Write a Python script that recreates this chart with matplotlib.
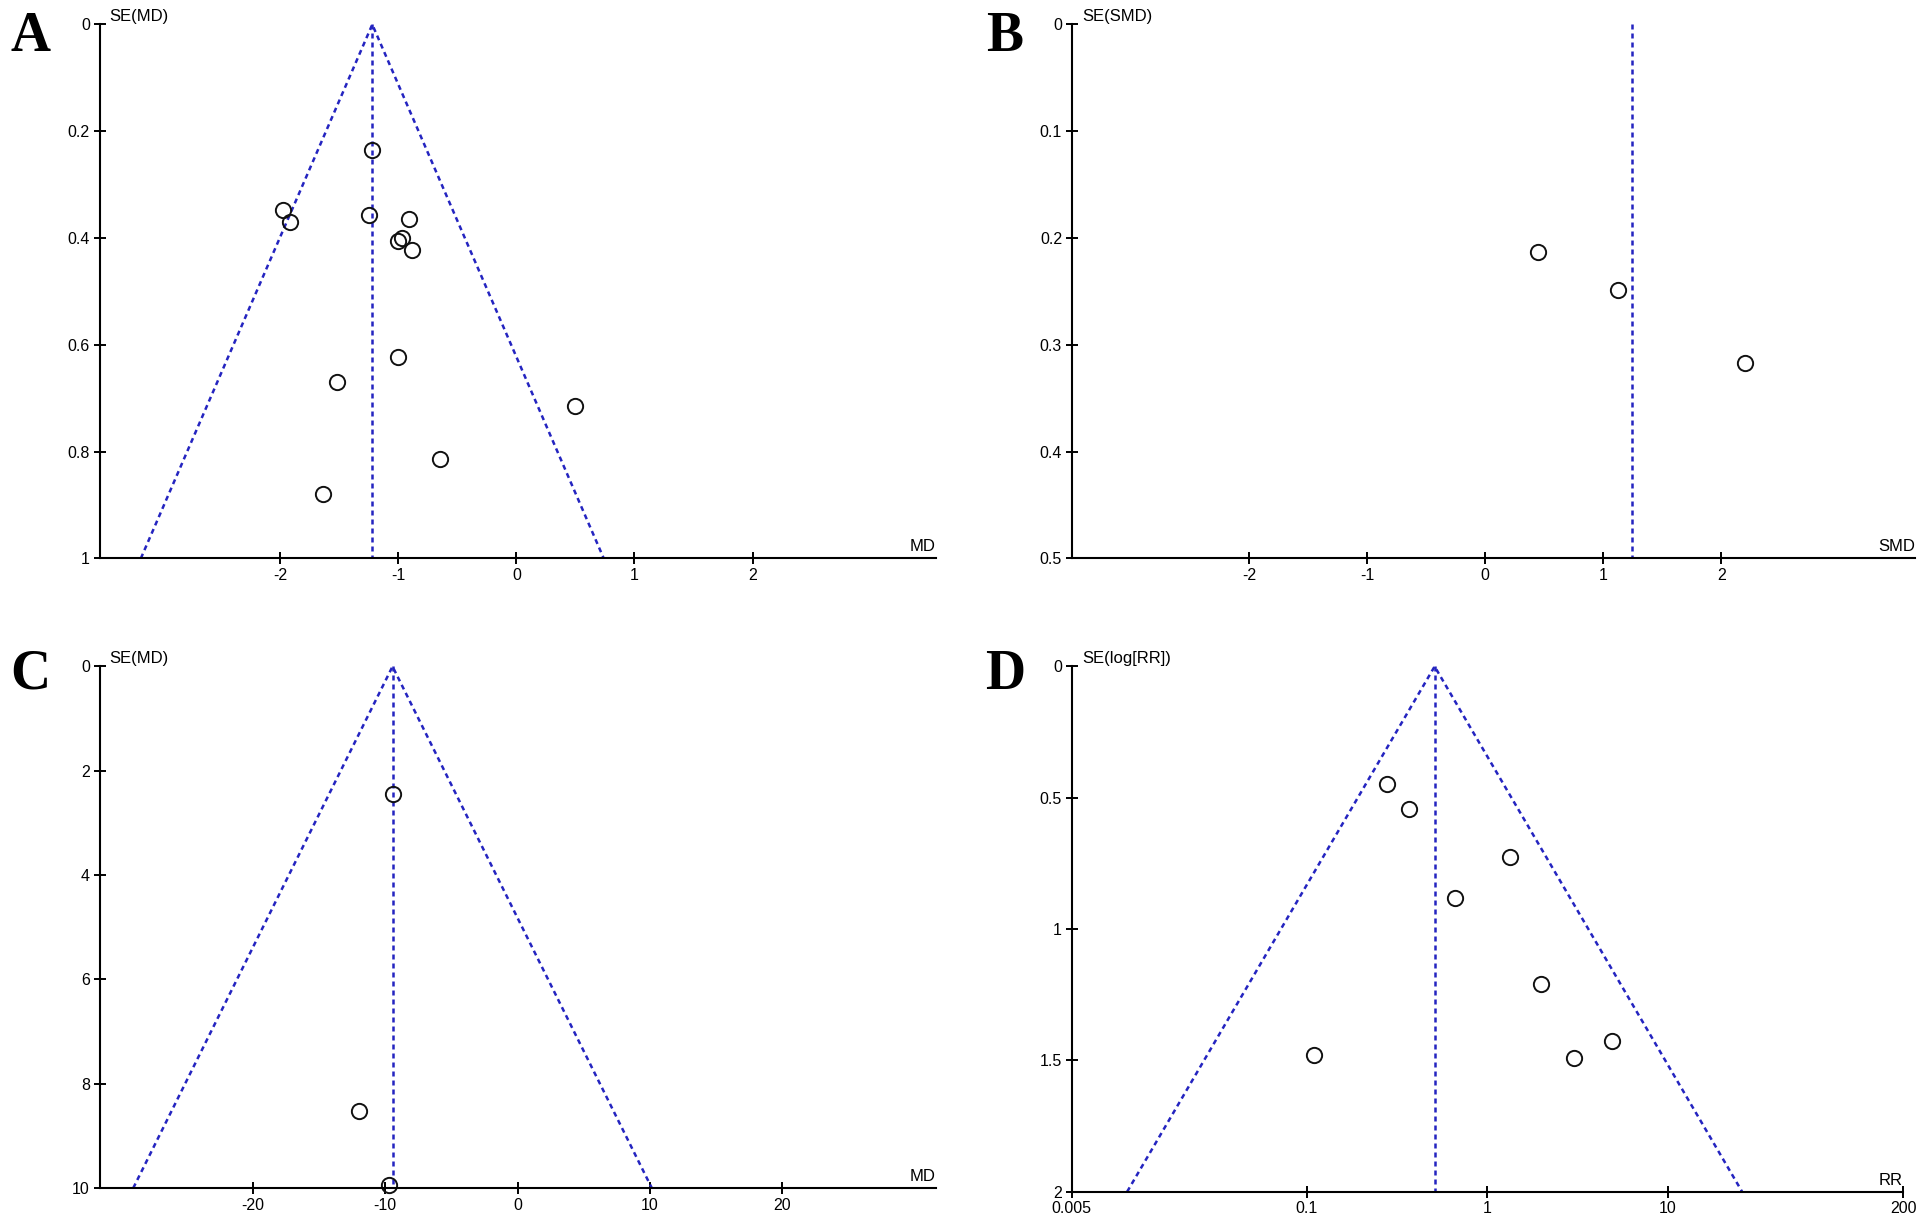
import numpy as np
import matplotlib
matplotlib.use("Agg")
import matplotlib.pyplot as plt
from matplotlib.ticker import FixedLocator, FixedFormatter, NullLocator

plt.rcParams["font.family"] = ["Liberation Sans", "DejaVu Sans"]

# Panel A: MD
a_md = [-1.22, -1.98, -1.92, -1.25, -0.91, -0.97, -1.00, -0.88, -1.00, -1.52, 0.50, -0.65, -1.64]
a_se = [0.235, 0.347, 0.369, 0.356, 0.365, 0.399, 0.406, 0.422, 0.623, 0.670, 0.714, 0.813, 0.880]
a_pooled = -1.22

# Panel B: SMD
b_smd = [0.45, 1.12, 2.20]
b_se = [0.213, 0.249, 0.317]
b_pooled = 1.24

# Panel C: MD
c_md = [-9.4, -12.0, -9.7]
c_se = [2.45, 8.52, 9.95]
c_pooled = -9.45

# Panel D: RR
d_rr = [0.278, 0.368, 1.33, 0.66, 1.99, 0.109, 4.9, 3.03]
d_se = [0.449, 0.542, 0.724, 0.883, 1.21, 1.48, 1.425, 1.49]
d_pooled = 0.51

a_xticks = [-2, -1, 0, 1, 2]
a_yticks = [0, 0.2, 0.4, 0.6, 0.8, 1]
a_ylabels = ["0", "0.2", "0.4", "0.6", "0.8", "1"]
b_yticks = [0, 0.1, 0.2, 0.3, 0.4, 0.5]
b_ylabels = ["0", "0.1", "0.2", "0.3", "0.4", "0.5"]
c_xticks = [-20, -10, 0, 10, 20]
c_yticks = [0, 2, 4, 6, 8, 10]
c_ylabels = ["0", "2", "4", "6", "8", "10"]
d_xticks = [0.005, 0.1, 1, 10, 200]
d_xlabels = ["0.005", "0.1", "1", "10", "200"]
d_yticks = [0, 0.5, 1, 1.5, 2]
d_ylabels = ["0", "0.5", "1", "1.5", "2"]

BLUE = "#2424c0"
DASH = (0, (2.0, 1.6))

fig = plt.figure(figsize=(19.25, 12.31), dpi=100)


def funnel(ax, xs, ses, pooled, se_max, xlim, xticks, xlabels, yticks, ylabels,
           xname, yname, log=False, sides=True):
    if log:
        ax.set_xscale("log")
    if sides:
        if log:
            lo = np.exp(np.log(pooled) - 1.96 * se_max)
            hi = np.exp(np.log(pooled) + 1.96 * se_max)
        else:
            lo = pooled - 1.96 * se_max
            hi = pooled + 1.96 * se_max
        ax.plot([lo, pooled, hi], [se_max, 0, se_max], color=BLUE, lw=1.8,
                linestyle=DASH, clip_on=False)
    ax.plot([pooled, pooled], [0, se_max], color=BLUE, lw=1.8, linestyle=DASH,
            clip_on=False)
    ax.plot(xs, ses, "o", ms=11, mfc="none", mec="#111111", mew=1.4,
            clip_on=False)
    ax.set_xlim(*xlim)
    ax.set_ylim(se_max, 0)
    for s in ["top", "right"]:
        ax.spines[s].set_visible(False)
    for s in ["left", "bottom"]:
        ax.spines[s].set_linewidth(1.5)
    ax.xaxis.set_major_locator(FixedLocator(xticks))
    ax.xaxis.set_major_formatter(FixedFormatter(xlabels))
    ax.xaxis.set_minor_locator(NullLocator())
    ax.yaxis.set_major_locator(FixedLocator(yticks))
    ax.yaxis.set_major_formatter(FixedFormatter(ylabels))
    ax.tick_params(direction="inout", length=8, width=1.4, labelsize=11.5,
                   pad=3)
    ax.text(0.012, 1.0, yname, transform=ax.transAxes, ha="left", va="bottom",
            fontsize=12)
    ax.text(1.0, 0.008, xname, transform=ax.transAxes, ha="right",
            va="bottom", fontsize=12)


ax_a = fig.add_axes([0.0517, 0.5464, 0.4343, 0.4337])
funnel(ax_a, a_md, a_se, a_pooled, 1.0, (-3.53, 3.55), a_xticks,
       [str(t) for t in a_xticks], a_yticks, a_ylabels, "MD", "SE(MD)")

ax_b = fig.add_axes([0.5568, 0.5464, 0.4381, 0.4337])
funnel(ax_b, b_smd, b_se, b_pooled, 0.5, (-3.5, 3.64), a_xticks,
       [str(t) for t in a_xticks], b_yticks, b_ylabels, "SMD", "SE(SMD)",
       sides=False)

ax_c = fig.add_axes([0.0517, 0.0349, 0.4343, 0.4237])
funnel(ax_c, c_md, c_se, c_pooled, 10, (-31.6, 31.6), c_xticks,
       [str(t) for t in c_xticks], c_yticks, c_ylabels, "MD", "SE(MD)")

ax_d = fig.add_axes([0.5568, 0.0319, 0.4318, 0.4267])
funnel(ax_d, d_rr, d_se, d_pooled, 2, (0.005, 200), d_xticks, d_xlabels,
       d_yticks, d_ylabels, "RR", "SE(log[RR])", log=True)

for letter, x, y in [("A", 0.016, 0.970), ("B", 0.522, 0.970),
                     ("C", 0.016, 0.452), ("D", 0.522, 0.452)]:
    fig.text(x, y, letter, ha="center", va="center", fontsize=40,
             fontweight="bold", family=["Liberation Serif", "DejaVu Serif"])

fig.savefig("out.png", dpi=100)
